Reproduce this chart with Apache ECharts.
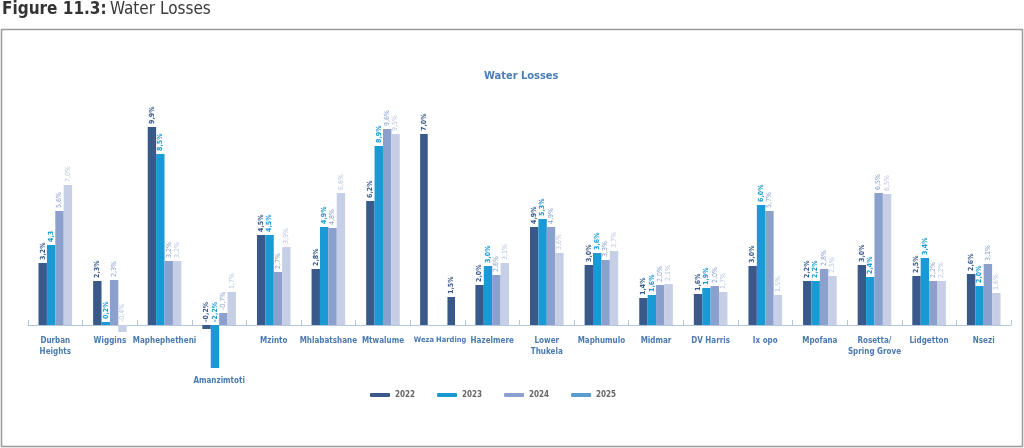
<!doctype html>
<html>
<head>
  <meta charset="utf-8">
  <title>Water Losses</title>
  <script src="https://cdn.jsdelivr.net/npm/echarts@6/dist/echarts.min.js"></script>
  <style>
    html, body { margin: 0; padding: 0; background: #fff; }
    #main { width: 1024px; height: 448px; }
  </style>
</head>
<body>
<div id="main"></div>
<script>
// categories in axis order; Weza and Harding share one slot in the original
var categories = ['Durban\nHeights', 'Wiggins', 'Maphephetheni', 'Amanzimtoti', 'Mzinto', 'Mhlabatshane', 'Mtwalume',
  'Weza', 'Harding', 'Hazelmere', 'Lower\nThukela', 'Maphumulo', 'Midmar', 'DV Harris', 'Ix opo', 'Mpofana',
  'Rosetta/\nSpring Grove', 'Lidgetton', 'Nsezi'];
var halfSlot = ['Weza', 'Harding'];
var years = ['2022', '2023', '2024', '2025'];

// bar heights (%) as drawn
var v2022 = [3.1, 2.2, 9.9, -0.2, 4.5, 2.8, 6.2, 9.55, 1.4, 2.0, 4.9, 3.0, 1.35, 1.55, 2.95, 2.2, 3.0, 2.45, 2.55];
var v2023 = [4.0, 0.15, 8.55, -2.15, 4.5, 4.9, 8.95, null, null, 2.95, 5.3, 3.6, 1.5, 1.85, 6.0, 2.2, 2.4, 3.35, 1.95];
var v2024 = [5.7, 2.25, 3.2, 0.6, 2.65, 4.85, 9.8, null, null, 2.5, 4.9, 3.25, 2.0, 1.95, 5.7, 2.8, 6.6, 2.2, 3.05];
var v2025 = [7.0, -0.35, 3.2, 1.65, 3.9, 6.6, 9.55, null, null, 3.1, 3.6, 3.7, 2.05, 1.65, 1.5, 2.45, 6.55, 2.2, 1.6];

// data label texts as printed
var t2022 = ['3,2%', '2,3%', '9,9%', '-0,2%', '4,5%', '2,8%', '6,2%', '7,0%', '1,5%', '2,0%', '4,9%', '3,0%', '1,4%', '1,6%', '3,0%', '2,2%', '3,0%', '2,5%', '2,6%'];
var t2023 = ['4,3', '0,2%', '8,5%', '-2,2%', '4,5%', '4,9%', '8,9%', '', '', '3,0%', '5,3%', '3,6%', '1,6%', '1,9%', '6,0%', '2,2%', '2,4%', '3,4%', '2,0%'];
var t2024 = ['5,6%', '2,3%', '3,2%', '-0,7%', '2,7%', '4,8%', '9,6%', '', '', '2,6%', '4,9%', '3,3%', '2,0%', '2,0%', '5,7%', '2,8%', '6,5%', '2,2%', '3,1%'];
var t2025 = ['7,0%', '-0,4%', '3,2%', '1,7%', '3,9%', '6,6%', '9,5%', '', '', '3,1%', '3,6%', '3,7%', '2,1%', '1,7%', '1,5%', '2,5%', '6,5%', '2,2%', '1,6%'];

var colors = ['#38598a', '#1a9ad4', '#8ba0cd', '#c6cfe5'];
var labelColors = ['#38598a', '#1a9ad4', '#8ba0cd', '#bcc7df'];
var legendColors = ['#38598a', '#1a9ad4', '#8ba0cd', '#5a9bd0'];
var font = "'DejaVu Sans Condensed', Roboto, sans-serif";

// build the slot axis: full slots plus one shared slot for Weza/Harding
var slots = [], slotCat = [];
categories.forEach(function (c, i) {
  var h = halfSlot.indexOf(c);
  if (h >= 0) {
    if (h === 0) { slots.push(''); slotCat.push(-1); }
  } else {
    slots.push(c); slotCat.push(i);
  }
});
var shared = slots.indexOf('');
var halfCats = [], halfCat = [];
for (var k = 0; k < slots.length * 2; k++) { halfCats.push(''); halfCat.push(-1); }
halfSlot.forEach(function (c, h) {
  halfCats[shared * 2 + h] = c;
  halfCat[shared * 2 + h] = categories.indexOf(c);
});

var values = [v2022, v2023, v2024, v2025];
var texts = [t2022, t2023, t2024, t2025];

function labelOpt(y) {
  return {
    show: true, position: 'top', rotate: 90, align: 'left', verticalAlign: 'middle', distance: 3,
    fontSize: 7, fontFamily: font, fontWeight: y < 2 ? 'bold' : 'normal', color: labelColors[y]
  };
}

var series = years.map(function (yr, y) {
  var data = slots.map(function (s, j) {
    return slotCat[j] < 0 ? null : values[y][slotCat[j]];
  });
  var lab = labelOpt(y);
  lab.formatter = function (p) { return texts[y][slotCat[p.dataIndex]]; };
  return {
    name: yr, type: 'bar', xAxisIndex: 0, data: data, barWidth: 8.4, barGap: '0%', clip: false,
    itemStyle: { color: colors[y] }, label: lab
  };
});
// Weza and Harding only have 2022 values, drawn on the half-slot axis
var halfLab = labelOpt(0);
halfLab.formatter = function (p) { return t2022[halfCat[p.dataIndex]]; };
series.push({
  name: '2022', type: 'bar', xAxisIndex: 1, barWidth: 7.6, clip: false,
  data: halfCats.map(function (c, j) { return halfCat[j] < 0 ? null : v2022[halfCat[j]]; }),
  itemStyle: { color: colors[0] }, label: halfLab
});

var catLabel = {
  interval: 0, margin: 10, fontSize: 8, lineHeight: 11, fontWeight: 'bold', fontFamily: font, color: '#4a7ab0',
  formatter: function (v) { return v === 'Amanzimtoti' ? '{low|' + v + '}' : v; },
  rich: { low: { fontSize: 8, fontWeight: 'bold', fontFamily: font, color: '#4a7ab0', padding: [80, 0, 0, 0] } }
};
var halfLabel = {
  interval: 0, margin: 10, fontSize: 7.5, lineHeight: 11, fontWeight: 'bold', fontFamily: font, color: '#4a7ab0'
};

var myChart = echarts.init(document.getElementById('main'));
var option = {
  animation: false,
  title: {
    text: 'Water Losses', left: 479, top: 66,
    textStyle: { fontSize: 11, fontWeight: 'bold', color: '#4a7db4', fontFamily: font }
  },
  legend: {
    left: 365, top: 386, itemWidth: 20, itemHeight: 4, itemGap: 22, icon: 'roundRect',
    textStyle: { fontSize: 8, color: '#666', fontWeight: 'bold', fontFamily: font },
    data: years.map(function (yr, y) { return { name: yr, itemStyle: { color: legendColors[y] } }; })
  },
  graphic: [
    {
      type: 'rect', shape: { x: 1.5, y: 29.5, width: 1021, height: 417 },
      style: { fill: 'none', stroke: '#9a9a9a', lineWidth: 1.5 }
    },
    {
      type: 'text', left: 2, top: 1,
      style: {
        text: '{b|Figure 11.3:} {r|Water Losses}',
        rich: {
          b: { fontSize: 17, fontWeight: 'bold', fontFamily: font, fill: '#333' },
          r: { fontSize: 17, fontFamily: font, fill: '#3a3a3a' }
        }
      }
    }
  ],
  // zero line sits on the grid bottom; negative bars draw below it (clip off)
  grid: { left: 28, right: 13, top: 125, bottom: 123 },
  xAxis: [
    {
      type: 'category', data: slots, position: 'bottom',
      axisLine: { onZero: false, lineStyle: { color: '#b3c6dc', width: 1 } },
      axisTick: { show: true, inside: true, length: 5, lineStyle: { color: '#b3c6dc' } },
      axisLabel: catLabel
    },
    {
      type: 'category', data: halfCats, position: 'bottom',
      axisLine: { show: false, onZero: false },
      axisTick: {
        show: true, inside: true, length: 5, lineStyle: { color: '#b3c6dc' },
        interval: function (i) { return i === shared * 2 + 1; }
      },
      axisLabel: halfLabel
    }
  ],
  yAxis: { type: 'value', min: 0, max: 10, show: false },
  series: series
};
myChart.setOption(option);
</script>
</body>
</html>
